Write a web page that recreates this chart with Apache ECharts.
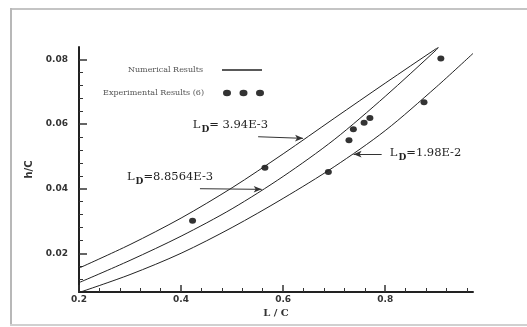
<!DOCTYPE html>
<html>
<head>
<meta charset="utf-8">
<script src="https://cdn.jsdelivr.net/npm/echarts@6/dist/echarts.min.js"></script>
<style>
  html, body { margin: 0; padding: 0; background: #fff; }
</style>
</head>
<body>
<div id="chart" style="width:527px;height:327px"></div>
<script>
// curves: [L/C, h/C]
var curveLD394 = [[0.2, 0.0154], [0.3, 0.0227], [0.4, 0.0309], [0.5, 0.0403], [0.6, 0.0508], [0.7, 0.0618], [0.8, 0.0727], [0.9, 0.0834], [0.904, 0.0837]]
var curveLD885 = [[0.2, 0.0109], [0.3, 0.0178], [0.4, 0.0253], [0.5, 0.0338], [0.6, 0.0438], [0.7, 0.0552], [0.8, 0.0686], [0.9, 0.0830], [0.904, 0.0837]]
var curveLD198 = [[0.203, 0.008], [0.3, 0.0134], [0.4, 0.0200], [0.5, 0.0280], [0.6, 0.0370], [0.7, 0.0468], [0.8, 0.0580], [0.9, 0.0715], [0.972, 0.0819]]
var experimental = [[0.4225, 0.0301], [0.5643, 0.0465], [0.6886, 0.0452], [0.729, 0.0550], [0.7376, 0.0584], [0.7586, 0.0604], [0.770, 0.0619], [0.876, 0.0668], [0.909, 0.0803]]

var xMajorTicks = [0.2, 0.4, 0.6, 0.8]
var xMinorTicks = [0.24, 0.28, 0.32, 0.36, 0.44, 0.48, 0.52, 0.56, 0.64, 0.68, 0.72, 0.76, 0.84, 0.88, 0.92, 0.96]
var yMajorTicks = [0.02, 0.04, 0.06, 0.08]
var yMinorTicks = [0.012, 0.016, 0.024, 0.028, 0.032, 0.036, 0.044, 0.048, 0.052, 0.056, 0.064, 0.068, 0.072, 0.076]

// annotation text anchors and arrows
var labelTexts = ['= 3.94E-3', '=8.8564E-3', '=1.98E-2']
var labelAnchors = [[0.423, 0.0598], [0.294, 0.0436], [0.809, 0.0511]]
var arrowStarts = [[0.551, 0.0561], [0.437, 0.0400], [0.793, 0.0507]]
var arrowEnds = [[0.639, 0.0556], [0.558, 0.0398], [0.738, 0.0507]]

var chart = echarts.init(document.getElementById('chart'))

var ink = '#222'
var tickInk = '#333'
var xRange = { min: 0.2, max: 0.972 }
var yRange = { min: 0.008, max: 0.0839 }

function curveSeries(data, idx) {
  return {
    name: 'Numerical Results',
    type: 'line',
    data: data,
    smooth: 0.3,
    showSymbol: false,
    lineStyle: { color: ink, width: 1 },
    itemStyle: { color: ink },
    markPoint: {
      symbol: 'circle',
      symbolSize: 0,
      label: {
        show: true,
        position: 'right',
        distance: 0,
        formatter: '{l|L}{d|D}{l|' + labelTexts[idx] + '}',
        rich: {
          l: { fontFamily: 'DejaVu Serif', fontSize: 11.5, color: '#222' },
          d: { fontFamily: 'DejaVu Serif', fontSize: 9, color: '#222', fontWeight: 'bold', padding: [9, 0, 0, 1] }
        }
      },
      data: [{ coord: labelAnchors[idx] }]
    },
    markLine: {
      silent: true,
      symbol: ['none', 'arrow'],
      symbolSize: [5, 8],
      label: { show: false },
      lineStyle: { color: '#333', width: 1, type: 'solid' },
      data: [[{ coord: arrowStarts[idx] }, { coord: arrowEnds[idx] }]]
    }
  }
}

chart.setOption({
  animation: false,
  grid: { left: 79, right: 54, top: 47, bottom: 35 },
  // light grey frame round the figure
  graphic: [
    { type: 'line', shape: { x1: 10, y1: 9, x2: 527, y2: 9 }, style: { stroke: '#c4c4c4', lineWidth: 2 }, silent: true },
    { type: 'line', shape: { x1: 11, y1: 8, x2: 11, y2: 326 }, style: { stroke: '#b8b8b8', lineWidth: 2 }, silent: true },
    { type: 'line', shape: { x1: 10, y1: 325, x2: 527, y2: 325 }, style: { stroke: '#d0d0d0', lineWidth: 2 }, silent: true }
  ],
  legend: [
    {
      data: [{ name: 'Numerical Results', icon: 'path://M0,0H40V1.4H0Z' }],
      right: 260, top: 61, align: 'right', itemWidth: 40, itemHeight: 1.4, itemGap: 0,
      textStyle: { fontFamily: 'DejaVu Serif', fontSize: 8, color: '#555', padding: [0, 14, 0, 0] }
    },
    {
      data: [{ name: 'Experimental Results (6)', icon: 'path://M0,3.2a4,3.2 0 1,0 8,0a4,3.2 0 1,0 -8,0ZM16.5,3.2a4,3.2 0 1,0 8,0a4,3.2 0 1,0 -8,0ZM33,3.2a4,3.2 0 1,0 8,0a4,3.2 0 1,0 -8,0Z' }],
      right: 258, top: 84, align: 'right', itemWidth: 41, itemHeight: 6.4, itemGap: 0,
      textStyle: { fontFamily: 'DejaVu Serif', fontSize: 8, color: '#555', padding: [0, 14, 0, 0] }
    }
  ],
  xAxis: [
    {
      type: 'value', min: xRange.min, max: xRange.max,
      name: 'L / C', nameLocation: 'middle', nameGap: 12,
      nameTextStyle: { fontFamily: 'DejaVu Serif', fontWeight: 'bold', fontSize: 10, color: '#333' },
      axisLine: { show: true, onZero: false, lineStyle: { color: ink, width: 2 } },
      axisTick: { show: true, inside: true, length: 7, customValues: xMajorTicks, lineStyle: { color: tickInk, width: 1.5 } },
      axisLabel: { customValues: xMajorTicks, margin: 3, fontFamily: 'DejaVu Sans', fontWeight: 'bold', fontSize: 9, color: '#333' },
      splitLine: { show: false }
    },
    {
      type: 'value', min: xRange.min, max: xRange.max, position: 'bottom',
      axisLine: { show: false },
      axisTick: { show: true, inside: true, length: 4, customValues: xMinorTicks, lineStyle: { color: tickInk, width: 1 } },
      axisLabel: { show: false },
      splitLine: { show: false }
    }
  ],
  yAxis: [
    {
      type: 'value', min: yRange.min, max: yRange.max,
      name: 'h/C', nameLocation: 'middle', nameGap: 40,
      nameTextStyle: { fontFamily: 'DejaVu Sans', fontWeight: 'bold', fontSize: 10, color: '#333' },
      axisLine: { show: true, onZero: false, lineStyle: { color: ink, width: 2 } },
      axisTick: { show: true, inside: true, length: 8, customValues: yMajorTicks, lineStyle: { color: tickInk, width: 1.5 } },
      axisLabel: { customValues: yMajorTicks, margin: 11, fontFamily: 'DejaVu Sans', fontWeight: 'bold', fontSize: 9, color: '#333' },
      splitLine: { show: false }
    },
    {
      type: 'value', min: yRange.min, max: yRange.max, position: 'left',
      axisLine: { show: false },
      axisTick: { show: true, inside: true, length: 4, customValues: yMinorTicks, lineStyle: { color: tickInk, width: 1 } },
      axisLabel: { show: false },
      splitLine: { show: false }
    }
  ],
  series: [
    curveSeries(curveLD394, 0),
    curveSeries(curveLD885, 1),
    curveSeries(curveLD198, 2),
    {
      name: 'Experimental Results (6)',
      type: 'scatter',
      data: experimental,
      symbol: 'circle',
      symbolSize: [7, 6],
      itemStyle: { color: '#000' }
    }
  ]
})
</script>
</body>
</html>
